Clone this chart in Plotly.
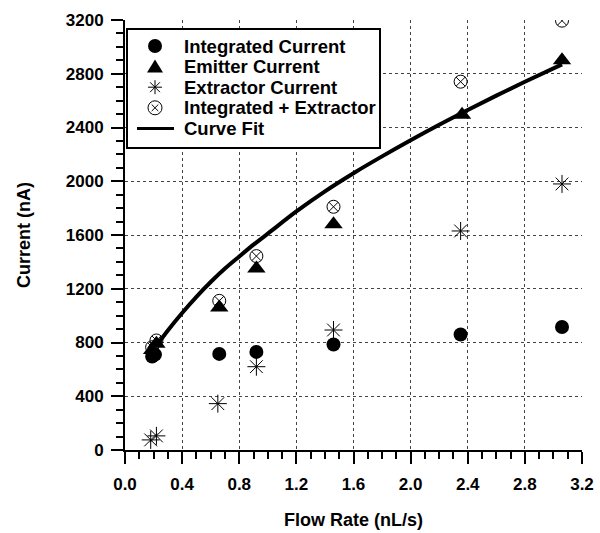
import plotly.graph_objects as go

# Data
int_x = [0.19, 0.21, 0.66, 0.92, 1.46, 2.35, 3.06]
int_y = [695, 710, 715, 730, 785, 860, 915]

emit_x = [0.19, 0.22, 0.66, 0.92, 1.46, 2.36, 3.06]
emit_y = [745, 790, 1060, 1350, 1680, 2495, 2900]

extr_x = [0.18, 0.22, 0.65, 0.92, 1.46, 2.35, 3.06]
extr_y = [75, 105, 345, 620, 893, 1630, 1980]

sum_x = [0.19, 0.22, 0.66, 0.92, 1.46, 2.35, 3.06]
sum_y = [765, 815, 1110, 1443, 1810, 2741, 3195]

fit_x = [0.23, 0.3, 0.4, 0.5, 0.6, 0.7, 0.8, 0.9, 1.0, 1.2, 1.4, 1.6, 1.8,
         2.0, 2.2, 2.4, 2.6, 2.8, 3.06]
fit_y = [790, 890, 1020, 1140, 1250, 1350, 1440, 1528, 1610, 1775, 1925, 2060, 2185,
         2305, 2420, 2530, 2637, 2740, 2870]

legend_labels = ["Integrated Current", "Emitter Current", "Extractor Current",
                 "Integrated + Extractor", "Curve Fit"]

FONT = "Liberation Sans, Arial, sans-serif"
W, H = 600, 533
L, R, T, B = 125, 18, 20, 83
PW, PH = W - L - R, H - T - B


def PX(px):
    return (px - L) / PW


def PY(py):
    return (H - B - py) / PH


fig = go.Figure()
fig.add_trace(go.Scatter(x=fit_x, y=fit_y, mode="lines", name="Curve Fit",
                         line=dict(color="black", width=4, shape="spline")))
fig.add_trace(go.Scatter(x=int_x, y=int_y, mode="markers", name="Integrated Current",
                         marker=dict(symbol="circle", size=14, color="black")))
fig.add_trace(go.Scatter(x=emit_x, y=emit_y, mode="markers", name="Emitter Current",
                         marker=dict(symbol="triangle-up", size=16, color="black")))
fig.add_trace(go.Scatter(x=extr_x, y=extr_y, mode="markers", name="Extractor Current",
                         marker=dict(symbol="asterisk-open", size=15, color="black",
                                     line=dict(color="black", width=1))))
fig.add_trace(go.Scatter(x=sum_x, y=sum_y, mode="markers", name="Integrated + Extractor",
                         marker=dict(symbol="circle-x-open", size=13, color="black",
                                     line=dict(color="black", width=1))))

axis_common = dict(
    showline=True, linecolor="black", linewidth=2,
    ticks="outside", ticklen=12, tickwidth=2, tickcolor="black",
    showgrid=True, gridcolor="#444", griddash="dot", gridwidth=1,
    zeroline=False, automargin=False,
    tickfont=dict(family=FONT, size=17, color="black", weight="bold"),
)

fig.update_xaxes(range=[0, 3.2], dtick=0.4, tick0=0, tickformat=".1f",
                 ticklabelstandoff=6,
                 minor=dict(dtick=0.1, ticklen=7, tickwidth=2, tickcolor="black",
                            ticks="outside", showgrid=False),
                 title=dict(text="Flow Rate (nL/s)", standoff=20,
                            font=dict(family=FONT, size=18, color="black", weight="bold")),
                 **axis_common)
fig.update_yaxes(range=[0, 3200], dtick=400, tick0=0,
                 ticklabelstandoff=4,
                 minor=dict(dtick=100, ticklen=7, tickwidth=2, tickcolor="black",
                            ticks="outside", showgrid=False),
                 title=dict(text="Current (nA)", standoff=30,
                            font=dict(family=FONT, size=18, color="black", weight="bold")),
                 **axis_common)

# ---- custom legend (box, swatches, labels) ----
shapes = []
annotations = []
box = dict(x0=127, x1=380, y0=29, y1=148)
shapes.append(dict(type="rect", xref="paper", yref="paper",
                   x0=PX(box["x0"]), x1=PX(box["x1"]), y0=PY(box["y1"]), y1=PY(box["y0"]),
                   line=dict(color="black", width=2), fillcolor="white", layer="above"))
sx, tx, y0, dy = 155, 182, 46, 20.6
for i, lab in enumerate(legend_labels):
    cy = y0 + dy * i
    if i == 0:
        r = 7
        shapes.append(dict(type="circle", xref="paper", yref="paper",
                           x0=PX(sx - r), x1=PX(sx + r), y0=PY(cy + r), y1=PY(cy - r),
                           fillcolor="black", line=dict(color="black", width=0), layer="above"))
    elif i == 1:
        path = "M {} {} L {} {} L {} {} Z".format(PX(sx), PY(cy - 7), PX(sx - 8), PY(cy + 6),
                                                  PX(sx + 8), PY(cy + 6))
        shapes.append(dict(type="path", xref="paper", yref="paper", path=path,
                           fillcolor="black", line=dict(color="black", width=0), layer="above"))
    elif i == 2:
        r = 7
        d = r * 0.707
        for (ax, ay, bx, by) in [(0, -r, 0, r), (-r, 0, r, 0), (-d, -d, d, d), (-d, d, d, -d)]:
            shapes.append(dict(type="line", xref="paper", yref="paper",
                               x0=PX(sx + ax), y0=PY(cy + ay), x1=PX(sx + bx), y1=PY(cy + by),
                               line=dict(color="black", width=1), layer="above"))
    elif i == 3:
        r = 7
        shapes.append(dict(type="circle", xref="paper", yref="paper",
                           x0=PX(sx - r), x1=PX(sx + r), y0=PY(cy + r), y1=PY(cy - r),
                           line=dict(color="black", width=1), layer="above"))
        d = 3.3
        for (ax, ay, bx, by) in [(-d, -d, d, d), (-d, d, d, -d)]:
            shapes.append(dict(type="line", xref="paper", yref="paper",
                               x0=PX(sx + ax), y0=PY(cy + ay), x1=PX(sx + bx), y1=PY(cy + by),
                               line=dict(color="black", width=1), layer="above"))
    else:
        shapes.append(dict(type="line", xref="paper", yref="paper",
                           x0=PX(137), y0=PY(cy), x1=PX(174), y1=PY(cy),
                           line=dict(color="black", width=3), layer="above"))
    annotations.append(dict(text=lab, xref="paper", yref="paper", x=PX(tx), y=PY(cy),
                            xanchor="left", yanchor="middle", showarrow=False,
                            font=dict(family=FONT, size=18.5, color="black", weight="bold")))

fig.update_layout(
    width=W, height=H,
    margin=dict(l=L, r=R, t=T, b=B),
    plot_bgcolor="white", paper_bgcolor="white",
    showlegend=False,
    shapes=shapes, annotations=annotations,
)

fig.write_html("out.html")
